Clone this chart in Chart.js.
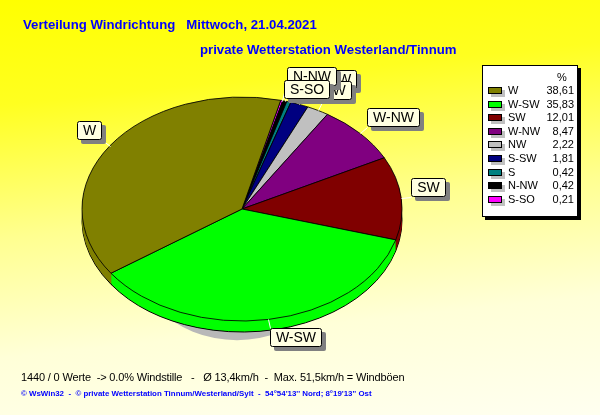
<!DOCTYPE html>
<html><head><meta charset="utf-8">
<script src="https://cdn.jsdelivr.net/npm/chart.js@4.4.0/dist/chart.umd.min.js"></script>
<style>
html,body{margin:0;padding:0;background:#fff;}
#wrap{position:relative;width:600px;height:415px;overflow:hidden;
 background:linear-gradient(174deg,#ffff00 0%,#ffff20 22%,#ffff90 50%,#ffffd8 75%,#fffff0 100%);
 font-family:"Liberation Sans",Arial,sans-serif;}
#chart{position:absolute;left:0;top:0;}
.tt{position:absolute;white-space:pre;color:#0000ff;font-weight:bold;font-size:13.2px;line-height:15px;}
#f1{position:absolute;left:21px;top:370px;white-space:pre;font-size:11px;letter-spacing:-0.15px;color:#000;line-height:14px;}
#f2{position:absolute;left:21px;top:389px;white-space:pre;font-size:7.9px;font-weight:bold;color:#0000ff;line-height:10px;}
#legend{position:absolute;left:482px;top:65px;width:94px;height:150px;background:#fff;border:1px solid #000;box-shadow:3px 3px 0 #000;font-size:11px;color:#000;}
#legend .hd{position:absolute;left:74px;top:5px;}
#legend .row{position:absolute;left:0;width:94px;height:13px;line-height:13px;}
#legend .sw{position:absolute;left:5px;top:3px;width:12px;height:5px;border:1px solid #000;box-shadow:3px 3px 0 #c0c0c0;}
#legend .lb{position:absolute;left:25px;top:0;}
#legend .vl{position:absolute;right:3px;top:0;}
</style></head>
<body>
<div id="wrap">
 <canvas id="chart" width="600" height="415"></canvas>
 <div class="tt" style="left:23px;top:17px;">Verteilung Windrichtung   Mittwoch, 21.04.2021</div>
 <div class="tt" style="left:200px;top:42px;">private Wetterstation Westerland/Tinnum</div>
 <div id="legend"></div>
 <div id="f1">1440 / 0 Werte  -&gt; 0.0% Windstille   -   Ø 13,4km/h  -  Max. 51,5km/h = Windböen</div>
 <div id="f2">© WsWin32  -  © private Wetterstation Tinnum/Westerland/Sylt  -  54°54'13'' Nord; 8°19'13'' Ost</div>
</div>
<script>
// ---- data (legend order) ----
const categories = ['W','W-SW','SW','W-NW','NW','S-SW','S','N-NW','S-SO'];
const percentages = [38.61,35.83,12.01,8.47,2.22,1.81,0.42,0.42,0.21];
const percentLabels = ['38,61','35,83','12,01','8,47','2,22','1,81','0,42','0,42','0,21'];
const sliceColors = ['#808000','#00ff00','#800000','#800080','#c0c0c0','#000080','#008080','#000000','#ff00ff'];

// legend
const lg = document.getElementById('legend');
const hd = document.createElement('div'); hd.className='hd'; hd.textContent='%'; lg.appendChild(hd);
categories.forEach((c,i)=>{
  const r=document.createElement('div'); r.className='row'; r.style.top=(18+i*13.6)+'px';
  r.innerHTML='<div class="sw" style="background:'+sliceColors[i]+'"></div><div class="lb">'+c+'</div><div class="vl">'+percentLabels[i]+'</div>';
  lg.appendChild(r);
});

// chart draws counter-clockwise: feed the library reversed order
const chartLabels = categories.slice().reverse();
const chartValues = percentages.slice().reverse();
const chartColors = sliceColors.slice().reverse();

const TILT = 0.7, DEPTH = 11;

function ell(ctx, cx, cy){ ctx.translate(cx,cy); ctx.scale(1,TILT); ctx.translate(-cx,-cy); }

function rrect(ctx,x,y,w,h,r){
  ctx.beginPath();
  ctx.moveTo(x+r,y); ctx.lineTo(x+w-r,y); ctx.quadraticCurveTo(x+w,y,x+w,y+r);
  ctx.lineTo(x+w,y+h-r); ctx.quadraticCurveTo(x+w,y+h,x+w-r,y+h);
  ctx.lineTo(x+r,y+h); ctx.quadraticCurveTo(x,y+h,x,y+h-r);
  ctx.lineTo(x,y+r); ctx.quadraticCurveTo(x,y,x+r,y); ctx.closePath();
}

const pie3d = {
  id:'pie3d',
  beforeDatasetsDraw(chart){
    const ctx = chart.ctx;
    const arcs = chart.getDatasetMeta(0).data;
    const cx = arcs[0].x, cy = arcs[0].y, r = arcs[0].outerRadius;
    ctx.save();
    // shadow
    ctx.fillStyle = '#b8b8b8';
    ctx.beginPath();
    ctx.ellipse(cx-5, cy+r*0.12, r*0.72, r*TILT, 0, 0, Math.PI*2);
    ctx.fill();
    // sides
    for(let d=DEPTH; d>=1; d--){
      arcs.forEach(a=>{
        ctx.save(); ell(ctx, cx, cy+d);
        ctx.beginPath();
        ctx.moveTo(a.x, a.y+d);
        ctx.arc(a.x, a.y+d, a.outerRadius, a.startAngle, a.endAngle);
        ctx.closePath();
        ctx.restore();
        ctx.fillStyle = a.options.backgroundColor; ctx.fill();
        if(d===DEPTH){ ctx.lineWidth=1; ctx.strokeStyle='#000'; ctx.stroke(); }
      });
    }
    ctx.restore();
    ctx.save();
    ell(ctx, cx, cy);
  },
  afterDatasetsDraw(chart){
    const ctx = chart.ctx;
    ctx.restore();
    const arcs = chart.getDatasetMeta(0).data;
    const cx = arcs[0].x, cy = arcs[0].y, r = arcs[0].outerRadius;
    const ry = r*TILT;
    ctx.save();
    ctx.font = '14px "Liberation Sans", Arial, sans-serif';
    ctx.textBaseline = 'middle';
    const boxes = [];
    let prev = null;
    arcs.forEach((a,i)=>{
      const mid = (a.startAngle+a.endAngle)/2;
      const c = Math.cos(mid), s = Math.sin(mid);
      const ex = cx + c*r, ey = cy + s*ry;
      const ax = cx + c*r*1.06, ay = cy + s*ry*1.08;
      const txt = chartLabels[i];
      const w = Math.round(ctx.measureText(txt).width) + 12, h = 19;
      let left = c>0 ? ax : ax - w;
      const f = Math.min(1, 0.2 + 1.6*Math.abs(c));
      let top = s>0 ? ay : ay - h*f;
      const ov = (b)=> {
        const ox = Math.min(left+w, b.left+b.w) - Math.max(left, b.left);
        const oy = Math.min(top+h, b.top+b.h) - Math.max(top, b.top);
        return ox>0 && oy>0 && ox*oy > 0.6*Math.min(w*h, b.w*b.h);
      };
      let guard = 0;
      while(prev && ov(prev) && guard<4){ top -= 7; guard++; }
      const b = {left:Math.round(left), top:Math.round(top), w, h, txt, ex, ey, ax, ay};
      boxes.push(b); prev = b;
    });
    // leader lines
    ctx.strokeStyle = '#ffffff'; ctx.lineWidth = 1;
    boxes.forEach(b=>{
      ctx.beginPath(); ctx.moveTo(Math.round(b.ex)+0.5, Math.round(b.ey)+0.5);
      ctx.lineTo(Math.round(b.ax)+0.5, Math.round(b.ay)+0.5); ctx.stroke();
    });
    // boxes, drawn so the first-placed ends on top
    for(let k=boxes.length-1;k>=0;k--){
      const b = boxes[k];
      ctx.fillStyle = '#808080';
      rrect(ctx, b.left+4, b.top+4, b.w, b.h, 2); ctx.fill();
      ctx.fillStyle = '#ffffe1';
      rrect(ctx, b.left+0.5, b.top+0.5, b.w-1, b.h-1, 2); ctx.fill();
      ctx.strokeStyle = '#000'; ctx.lineWidth = 1; ctx.stroke();
      ctx.fillStyle = '#000';
      ctx.textAlign = 'center';
      ctx.fillText(b.txt, b.left + b.w/2, b.top + b.h/2 + 1);
    }
    ctx.restore();
  }
};

new Chart(document.getElementById('chart'), {
  type:'pie',
  data:{ labels:chartLabels, datasets:[{ data:chartValues, backgroundColor:chartColors, borderColor:'#000', borderWidth:1 }]},
  options:{
    responsive:false, animation:false, devicePixelRatio:1,
    rotation:14, radius:160,
    layout:{ padding:{ left:82, right:198, top:49, bottom:46 } },
    plugins:{ legend:{display:false}, tooltip:{enabled:false} }
  },
  plugins:[pie3d]
});
</script>
</body></html>
